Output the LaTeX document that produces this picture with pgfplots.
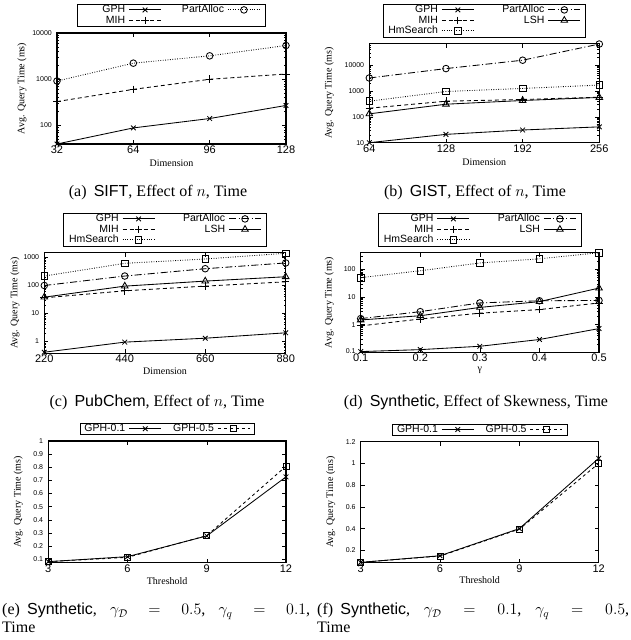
\RequirePackage{fix-cm}
\documentclass[border=0pt]{standalone}
\usepackage{fontspec}
\setmainfont{Liberation Serif}
\setsansfont{Liberation Sans}
\usepackage{calc}
\usepackage{pgfplots}
\pgfplotsset{compat=1.18}
\newcommand\lb[2]{\makebox[\widthof{#1}][r]{#2}}
\newcommand\capfont{\fontsize{16}{19}\selectfont}
\pgfplotsset{
  gp/.style={
    scale only axis, clip=false,
    axis line style={line width=1.1pt},
    tick align=inside, tick pos=both,
    major tick length=4pt, minor tick length=2pt,
    every tick/.style={black, line width=0.5pt},
    /pgf/number format/assume math mode=true,
    /pgf/number format/1000 sep={},
    xticklabel style={font=\sffamily\fontsize{11}{11}\selectfont, inner sep=0pt, anchor=north, yshift=-1.5pt},
    yticklabel style={font=\sffamily\fontsize{7}{7}\selectfont, inner sep=0pt, anchor=east, xshift=-5pt},
    label style={font=\fontsize{10}{10}\selectfont},
    ylabel={Avg. Query Time (ms)},
    legend style={at={(0.5,1)}, anchor=south, yshift=6.5pt, draw=black, line width=0.6pt,
      font=\sffamily\fontsize{10.5}{11}\selectfont, inner xsep=5pt, inner ysep=1pt,
      nodes={inner sep=0.5pt}, row sep=0.5pt,
      /tikz/every odd column/.style={column sep=3pt},
      /tikz/every even column/.style={column sep=20pt}},
    legend cell align=right,
    legend plot pos=right,
    legend image code/.code={\draw[mark repeat=2,mark phase=2] plot coordinates {(0pt,0pt)(16pt,0pt)(32pt,0pt)};},
  },
  ylab/.style={ylabel style={at={([xshift=-#1]axis description cs:0,0.5)}, anchor=center, rotate=0}},
  xlab/.style={xlabel style={at={([yshift=-#1]axis description cs:0.5,0)}, anchor=center}},
  gph/.style={black, line width=0.85pt, solid, mark=x, mark size=3.3pt, mark options={solid}},
  mih/.style={black, line width=0.85pt, dash pattern=on 4pt off 3pt, mark=+, mark size=3.8pt, mark options={solid}},
  pad/.style={black, line width=0.85pt, dash pattern=on 0.8pt off 1.6pt, mark=o, mark size=3.3pt, mark options={solid, fill=none}},
  pa/.style={black, line width=0.85pt, dash pattern=on 7pt off 2.5pt on 1pt off 2.5pt, mark=o, mark size=3.3pt, mark options={solid, fill=none}},
  lsh/.style={black, line width=0.85pt, solid, mark=triangle, mark size=3.8pt, mark options={solid, fill=none}},
  hms/.style={black, line width=0.85pt, dash pattern=on 0.8pt off 1.6pt, mark=square, mark size=3.3pt, mark options={solid, fill=none}},
  g5/.style={black, line width=0.85pt, dash pattern=on 3pt off 3pt, mark=square, mark size=3pt, mark options={solid, fill=none}},
}
\begin{document}
\begin{tikzpicture}
\path[use as bounding box] (0,0) rectangle (631pt,640pt);

% (a) SIFT
\begin{axis}[gp, at={(57pt,496pt)}, anchor=south west, width=229pt, height=111pt,
  ymode=log, xmin=32, xmax=128, ymin=40, ymax=10000,
  xtick={32,64,96,128}, xticklabels={32,64,96,128},
  ytick={100,1000,10000}, yticklabels={100,1000,10000},
  minor ytick={40,50,60,70,80,90,200,300,400,500,600,700,800,900,2000,3000,4000,5000,6000,7000,8000,9000},
  xlabel={Dimension}, ylab=35pt, xlab=19pt, legend columns=2]
\addplot[gph] coordinates {(32,40)(64,89)(96,142)(128,272)};
\addlegendentry{\lb{PartAlloc}{GPH}}
\addplot[pad] coordinates {(32,918)(64,2230)(96,3210)(128,5370)};
\addlegendentry{PartAlloc}
\addplot[mih] coordinates {(32,330)(64,606)(96,1000)(128,1300)};
\addlegendentry{\lb{PartAlloc}{MIH}}
\end{axis}

% (b) GIST
\begin{axis}[gp, at={(369.3pt,497.3pt)}, anchor=south west, width=230pt, height=99pt,
  ymode=log, xmin=64, xmax=256, ymin=10, ymax=68000,
  xtick={64,128,192,256}, xticklabels={64,128,192,256},
  ytick={10,100,1000,10000}, yticklabels={10,100,1000,10000},
  minor ytick={20,30,40,50,60,70,80,90,200,300,400,500,600,700,800,900,2000,3000,4000,5000,6000,7000,8000,9000,20000,30000,40000,50000,60000},
  xlabel={Dimension}, ylab=40pt, xlab=20pt, legend columns=2]
\addplot[gph] coordinates {(64,10)(128,21)(192,31)(256,41)};
\addlegendentry{\lb{HmSearch}{GPH}}
\addplot[pa] coordinates {(64,3200)(128,7400)(192,15600)(256,66000)};
\addlegendentry{\lb{HmSearch}{PartAlloc}}
\addplot[mih] coordinates {(64,216)(128,404)(192,470)(256,578)};
\addlegendentry{\lb{HmSearch}{MIH}}
\addplot[lsh] coordinates {(64,131)(128,309)(192,430)(256,565)};
\addlegendentry{\lb{HmSearch}{LSH}}
\addplot[hms] coordinates {(64,404)(128,960)(192,1260)(256,1700)};
\addlegendentry{HmSearch}
\end{axis}

% (c) PubChem
\begin{axis}[gp, at={(44.3pt,286.7pt)}, anchor=south west, width=241.4pt, height=100.6pt,
  ymode=log, xmin=220, xmax=880, ymin=0.38, ymax=1460,
  xtick={220,440,660,880}, xticklabels={220,440,660,880},
  ytick={1,10,100,1000}, yticklabels={1,10,100,1000},
  minor ytick={0.4,0.5,0.6,0.7,0.8,0.9,2,3,4,5,6,7,8,9,20,30,40,50,60,70,80,90,200,300,400,500,600,700,800,900},
  xlabel={Dimension}, ylab=29.3pt, xlab=18pt, legend columns=2]
\addplot[gph] coordinates {(220,0.415)(440,0.95)(660,1.31)(880,2.04)};
\addlegendentry{\lb{HmSearch}{GPH}}
\addplot[pa] coordinates {(220,99)(440,215)(660,392)(880,630)};
\addlegendentry{\lb{HmSearch}{PartAlloc}}
\addplot[mih] coordinates {(220,36)(440,64)(660,94)(880,134)};
\addlegendentry{\lb{HmSearch}{MIH}}
\addplot[lsh] coordinates {(220,38)(440,94)(660,142)(880,203)};
\addlegendentry{\lb{HmSearch}{LSH}}
\addplot[hms] coordinates {(220,215)(440,610)(660,870)(880,1390)};
\addlegendentry{HmSearch}
\end{axis}

% (d) Synthetic skewness
\begin{axis}[gp, at={(360.7pt,287.7pt)}, anchor=south west, width=238.3pt, height=99.6pt,
  ymode=log, xmin=0.1, xmax=0.5, ymin=0.1, ymax=400,
  xtick={0.1,0.2,0.3,0.4,0.5}, xticklabels={0.1,0.2,0.3,0.4,0.5},
  ytick={0.1,1,10,100}, yticklabels={\raisebox{2.5pt}{0.1},1,10,100},
  minor ytick={0.2,0.3,0.4,0.5,0.6,0.7,0.8,0.9,2,3,4,5,6,7,8,9,20,30,40,50,60,70,80,90,200,300,400},
  xlabel={γ}, ylab=31.4pt, xlab=17.5pt, legend columns=2]
\addplot[gph] coordinates {(0.1,0.106)(0.2,0.125)(0.3,0.165)(0.4,0.29)(0.5,0.72)};
\addlegendentry{\lb{HmSearch}{GPH}}
\addplot[pa] coordinates {(0.1,1.65)(0.2,2.95)(0.3,6.1)(0.4,7.3)(0.5,7.5)};
\addlegendentry{\lb{HmSearch}{PartAlloc}}
\addplot[mih] coordinates {(0.1,0.9)(0.2,1.6)(0.3,2.6)(0.4,3.5)(0.5,6.1)};
\addlegendentry{\lb{HmSearch}{MIH}}
\addplot[lsh] coordinates {(0.1,1.48)(0.2,2.1)(0.3,4.2)(0.4,6.8)(0.5,21)};
\addlegendentry{\lb{HmSearch}{LSH}}
\addplot[hms] coordinates {(0.1,50)(0.2,89)(0.3,170)(0.4,240)(0.5,400)};
\addlegendentry{HmSearch}
\end{axis}

% (e)
\begin{axis}[gp, at={(48.3pt,77.3pt)}, anchor=south west, width=237.7pt, height=121.7pt,
  xmin=3, xmax=12, ymin=0.074, ymax=1,
  xtick={3,6,9,12}, xticklabels={3,6,9,12},
  ytick={0.1,0.2,0.3,0.4,0.5,0.6,0.7,0.8,0.9,1}, yticklabels={0.1,0.2,0.3,0.4,0.5,0.6,0.7,0.8,0.9,1},
  xlabel={Threshold}, ylab=30pt, xlab=18pt, legend columns=2,
  legend style={inner xsep=4pt, inner ysep=0.5pt, /tikz/every even column/.style={column sep=11pt}}]
\addplot[gph] coordinates {(3,0.082)(6,0.12)(9,0.278)(12,0.727)};
\addlegendentry{GPH-0.1}
\addplot[g5] coordinates {(3,0.082)(6,0.115)(9,0.28)(12,0.808)};
\addlegendentry{GPH-0.5}
\end{axis}

% (f)
\begin{axis}[gp, at={(360.7pt,77.3pt)}, anchor=south west, width=238pt, height=121pt,
  xmin=3, xmax=12, ymin=0.086, ymax=1.2,
  xtick={3,6,9,12}, xticklabels={3,6,9,12},
  ytick={0.2,0.4,0.6,0.8,1,1.2}, yticklabels={0.2,0.4,0.6,0.8,1,1.2},
  xlabel={Threshold}, ylab=30pt, xlab=17.5pt, legend columns=2,
  legend style={inner xsep=4pt, inner ysep=0.5pt, /tikz/every even column/.style={column sep=11pt}}]
\addplot[gph] coordinates {(3,0.089)(6,0.15)(9,0.40)(12,1.047)};
\addlegendentry{GPH-0.1}
\addplot[g5] coordinates {(3,0.089)(6,0.147)(9,0.395)(12,1.0)};
\addlegendentry{GPH-0.5}
\end{axis}

% captions
\node[anchor=base, font=\capfont, inner sep=0pt] at (158pt,443.3pt) {(a)\hspace{0.45em}\textsf{SIFT}, Effect of $n$, Time};
\node[anchor=base, font=\capfont, inner sep=0pt] at (475pt,443.3pt) {(b)\hspace{0.45em}\textsf{GIST}, Effect of $n$, Time};
\node[anchor=base, font=\capfont, inner sep=0pt] at (157pt,233.3pt) {(c)\hspace{0.45em}\textsf{PubChem}, Effect of $n$, Time};
\node[anchor=base, font=\capfont, inner sep=0pt] at (476pt,233.3pt) {(d)\hspace{0.45em}\textsf{Synthetic}, Effect of Skewness, Time};
\node[anchor=base west, font=\capfont, inner sep=0pt] at (2pt,25pt) {\makebox[308pt][s]{(e)\hspace{0.45em}\textsf{Synthetic}, $\gamma_{\mathcal{D}} = 0.5$, $\gamma_q = 0.1$,}};
\node[anchor=base west, font=\capfont, inner sep=0pt] at (2pt,7pt) {Time};
\node[anchor=base west, font=\capfont, inner sep=0pt] at (317pt,25pt) {\makebox[312pt][s]{(f)\hspace{0.45em}\textsf{Synthetic}, $\gamma_{\mathcal{D}} = 0.1$, $\gamma_q = 0.5$,}};
\node[anchor=base west, font=\capfont, inner sep=0pt] at (317pt,7pt) {Time};
\end{tikzpicture}
\end{document}
